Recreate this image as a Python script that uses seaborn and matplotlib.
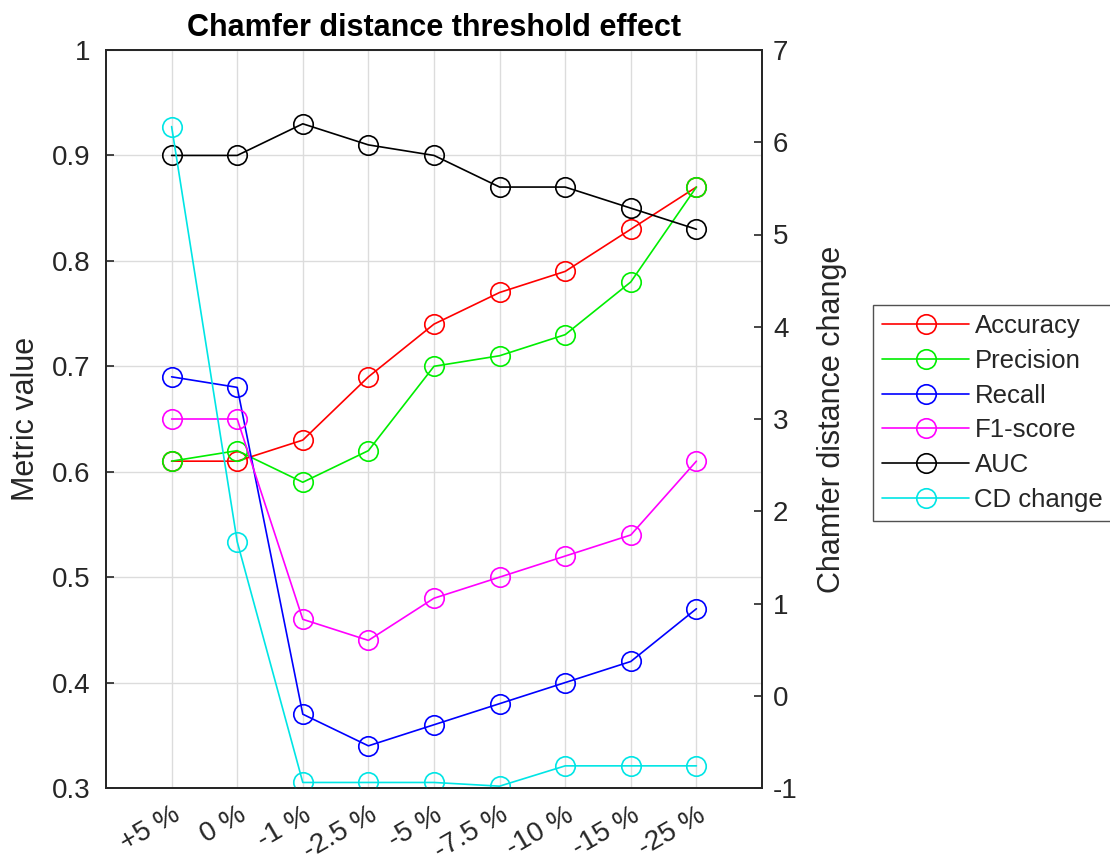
import numpy as np
import matplotlib
matplotlib.use("Agg")
import matplotlib.pyplot as plt
import seaborn as sns

categories = ["+5 %", "0 %", "-1 %", "-2.5 %", "-5 %", "-7.5 %", "-10 %", "-15 %", "-25 %"]
accuracy = [0.61, 0.61, 0.63, 0.69, 0.74, 0.77, 0.79, 0.83, 0.87]
precision = [0.61, 0.62, 0.59, 0.62, 0.70, 0.71, 0.73, 0.78, 0.87]
recall = [0.69, 0.68, 0.37, 0.34, 0.36, 0.38, 0.40, 0.42, 0.47]
f1_score = [0.65, 0.65, 0.46, 0.44, 0.48, 0.50, 0.52, 0.54, 0.61]
auc = [0.90, 0.90, 0.93, 0.91, 0.90, 0.87, 0.87, 0.85, 0.83]
cd_change = [6.17, 1.67, -0.94, -0.94, -0.94, -0.98, -0.76, -0.76, -0.76]

left_ticks = [0.3, 0.4, 0.5, 0.6, 0.7, 0.8, 0.9, 1.0]
left_labels = ["0.3", "0.4", "0.5", "0.6", "0.7", "0.8", "0.9", "1"]
right_ticks = [-1, 0, 1, 2, 3, 4, 5, 6, 7]

sns.set_style("white")
plt.rcParams['font.family'] = ['Liberation Sans', 'DejaVu Sans']
TXT = '#262626'

fig = plt.figure(figsize=(11.1, 8.65), dpi=100)
ax = fig.add_axes([106 / 1110, 77 / 865, 656 / 1110, 738 / 865])
ax2 = ax.twinx()

x = np.arange(1, len(categories) + 1)
style = dict(marker='o', markersize=14, markerfacecolor='none', markeredgewidth=1.2, linewidth=1.2)

series = [("Accuracy", accuracy, "#ff0000"), ("Precision", precision, "#00ee00"),
          ("Recall", recall, "#0000ff"), ("F1-score", f1_score, "#ff00ff"),
          ("AUC", auc, "#000000")]
for name, vals, col in series:
    sns.lineplot(x=x, y=vals, ax=ax, color=col, markeredgecolor=col, label=name, **style)
sns.lineplot(x=x, y=cd_change, ax=ax2, color="#00e5e5", markeredgecolor="#00e5e5", label="CD change", **style)

ax.set_xlim(0, 10)
ax.set_ylim(0.3, 1.0)
ax2.set_ylim(-1, 7)
ax.set_xticks(x)
ax.set_xticklabels(categories, rotation=30, ha='right', rotation_mode='anchor', fontsize=20, color=TXT)
ax.set_yticks(left_ticks)
ax.set_yticklabels(left_labels, fontsize=20, color=TXT)
ax2.set_yticks(right_ticks)
ax2.set_yticklabels([str(t) for t in right_ticks], fontsize=20, color=TXT)

ax.grid(True, color='#dcdcdc', linewidth=1.0)
ax.set_axisbelow(True)
ax.tick_params(axis='y', direction='in', length=6, width=1.2, color=TXT, pad=11)
ax.tick_params(axis='x', direction='in', length=6, width=1.2, color=TXT, pad=10)
ax2.tick_params(axis='y', direction='in', length=6, width=1.2, color=TXT, pad=8)

for a in (ax, ax2):
    for s in a.spines.values():
        s.set_visible(True)
        s.set_color(TXT)
        s.set_linewidth(1.3)

ax.set_ylabel("Metric value", fontsize=22, labelpad=8, color=TXT)
ax2.set_ylabel("Chamfer distance change", fontsize=22, labelpad=14, color=TXT)
ax.set_title("Chamfer distance threshold effect", fontsize=22, fontweight='bold', pad=10, color='black')

h1, l1 = ax.get_legend_handles_labels()
h2, l2 = ax2.get_legend_handles_labels()
if ax.get_legend():
    ax.get_legend().remove()
if ax2.get_legend():
    ax2.get_legend().remove()
leg = fig.legend(h1 + h2, l1 + l2, loc='center left', bbox_to_anchor=(873 / 1110, 1 - 413 / 865),
                 fontsize=18.5, frameon=True, fancybox=False, edgecolor=TXT,
                 handlelength=3.4, handletextpad=0.2, labelspacing=0.42, borderpad=0.35,
                 borderaxespad=0)
leg.get_frame().set_linewidth(1.0)
for t in leg.get_texts():
    t.set_color(TXT)

fig.savefig("out.png", dpi=100)
